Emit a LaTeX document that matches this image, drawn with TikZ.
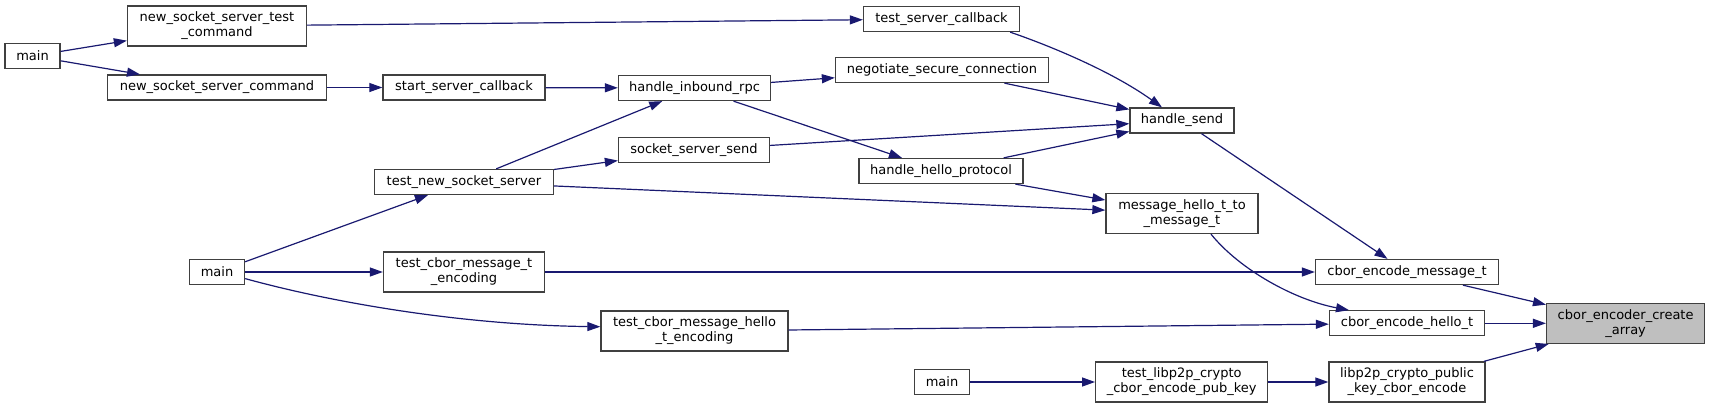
\documentclass[tikz,border=0pt]{standalone}
\usepackage{fontspec}
\setmainfont{DejaVu Sans}
\usepackage{tikz}
\usetikzlibrary{positioning,arrows.meta}
\definecolor{callblue}{HTML}{191970}
\definecolor{boxgrey}{HTML}{404040}
\definecolor{focusgrey}{HTML}{BFBFBF}

\begin{document}
\begin{tikzpicture}[
  x=1pt, y=-1pt,
  font=\fontsize{13}{15}\selectfont,
  fn/.style={draw=boxgrey, line width=1.3pt, fill=white, align=center, inner sep=0pt, minimum height=25pt},
  fntwo/.style={fn, minimum height=40pt},
  focus/.style={fntwo, fill=focusgrey},
  call/.style={-{Triangle[length=13pt,width=9pt]}, line width=1.2pt, draw=callblue}
]
\useasboundingbox (0,0) rectangle (1709,408);

\node[fn, minimum width=55pt] (mainA) at (32.5,56) {main};
\node[fntwo, minimum width=179pt] (nsstc) at (217,26) {new\_socket\_server\_test\\\_command};
\node[fn, minimum width=219pt] (nssc) at (217,87.5) {new\_socket\_server\_command};
\node[fn, minimum width=162pt] (ssc) at (464,87.5) {start\_server\_callback};
\node[fn, minimum width=179pt] (tnss) at (464,182) {test\_new\_socket\_server};
\node[fn, minimum width=55pt] (mainB) at (217,272) {main};
\node[fntwo, minimum width=161pt] (tcmte) at (464,272) {test\_cbor\_message\_t\\\_encoding};
\node[fntwo, minimum width=187pt] (tcmhe) at (694.5,331) {test\_cbor\_message\_hello\\\_t\_encoding};
\node[fn, minimum width=152pt] (hir) at (694.5,88) {handle\_inbound\_rpc};
\node[fn, minimum width=151pt] (sss) at (694,150) {socket\_server\_send};
\node[fn, minimum width=156pt] (tsc) at (941.5,19) {test\_server\_callback};
\node[fn, minimum width=213pt] (nsc) at (942,70) {negotiate\_secure\_connection};
\node[fn, minimum width=164pt] (hhp) at (941,171) {handle\_hello\_protocol};
\node[fn, minimum width=55pt] (mainC) at (942,382) {main};
\node[fn, minimum width=104pt] (hs) at (1182,120.5) {handle\_send};
\node[fntwo, minimum width=152pt] (mhtm) at (1182,213.5) {message\_hello\_t\_to\\\_message\_t};
\node[fntwo, minimum width=172pt] (tlcc) at (1181.7,382) {test\_libp2p\_crypto\\\_cbor\_encode\_pub\_key};
\node[fn, minimum width=183pt] (cem) at (1407,272) {cbor\_encode\_message\_t};
\node[fn, minimum width=155pt] (ceh) at (1407,323.3) {cbor\_encode\_hello\_t};
\node[fntwo, minimum width=156pt] (lpk) at (1407,382) {libp2p\_crypto\_public\\\_key\_cbor\_encode};
\node[focus, minimum width=158pt] (ceca) at (1625.6,323.3) {cbor\_encoder\_create\\\_array};

\draw[call] (mainA) -- (nsstc);
\draw[call] (mainA) -- (nssc);
\draw[call] (nsstc) -- (tsc);
\draw[call] (nssc) -- (ssc);
\draw[call] (ssc) -- (hir);
\draw[call] (tnss) -- (hir);
\draw[call] (tnss) -- (sss);
\draw[call] (tnss) -- (mhtm);
\draw[call] (hir) -- (nsc);
\draw[call] (hir) -- (hhp);
\draw[call] ([xshift=-10pt]tsc.south east) .. controls (1045,44) and (1110,70) .. ([xshift=-20pt]hs.north);
\draw[call] (nsc) -- (hs);
\draw[call] (sss) -- (hs);
\draw[call] (hhp) -- (hs);
\draw[call] (hhp) -- (mhtm);
\draw[call] (hs) -- (cem);
\draw[call] ([xshift=29pt]mhtm.south) .. controls (1240,270) and (1295,300) .. ([xshift=-58pt]ceh.north);
\draw[call] (mainB) -- (tnss);
\draw[call] (mainB) -- (tcmte);
\draw[call] ([yshift=-6.6pt]mainB.east) .. controls (330,302) and (460,325) .. ([yshift=4.3pt]tcmhe.west);
\draw[call] (tcmte) -- (cem);
\draw[call] (tcmhe) -- (ceh);
\draw[call] (mainC) -- (tlcc);
\draw[call] (tlcc) -- (lpk);
\draw[call] (cem) -- (ceca);
\draw[call] (ceh) -- (ceca);
\draw[call] (lpk) -- (ceca);
\end{tikzpicture}
\end{document}
